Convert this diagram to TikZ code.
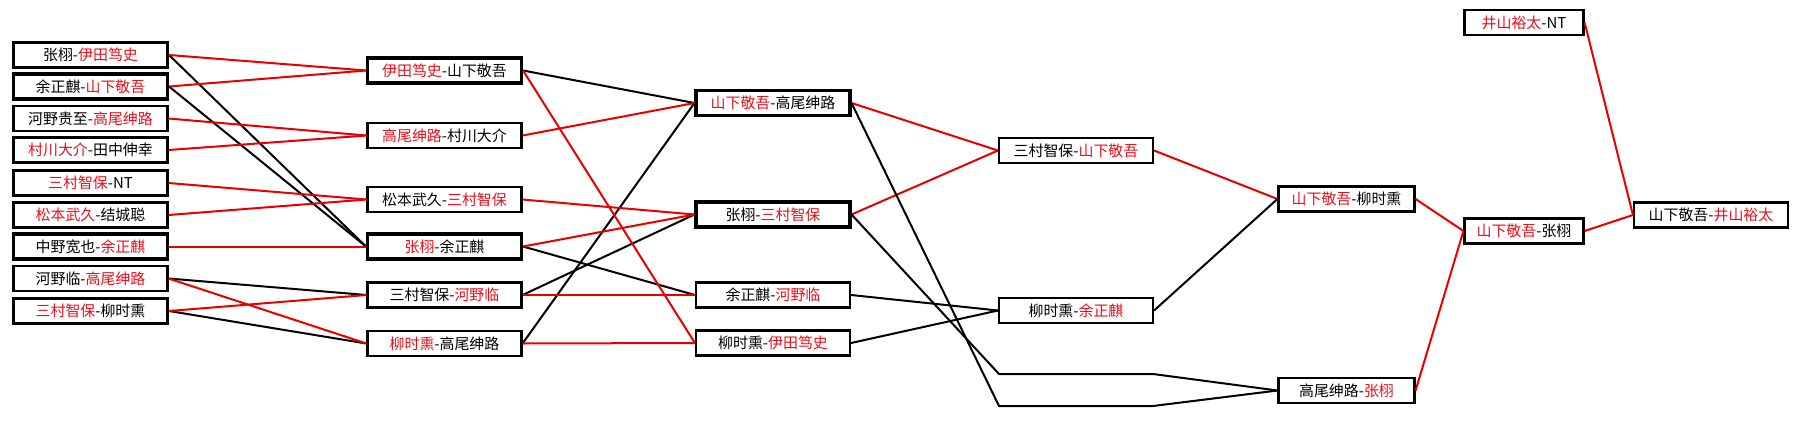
\documentclass[tikz,border=0pt]{standalone}
\usepackage{fontspec}
\setmainfont{Noto Sans CJK SC}
\usepackage{xcolor}
\definecolor{wred}{RGB}{232,16,28}
\definecolor{lred}{RGB}{232,0,0}
\newcommand{\redtxt}[1]{\textcolor{wred}{#1}}
\tikzset{
  box/.style={draw=black, line width=1.6pt, inner sep=0pt, minimum height=25*0.75pt, font=\fontsize{11.2pt}{13pt}\selectfont, text=black},
  boxb/.style={box, line width=2.3pt},
  w1/.style={minimum width=154*0.75pt},
  w5/.style={minimum width=136*0.75pt},
  w6/.style={minimum width=119*0.75pt},
  rl/.style={draw=lred, line width=1.5pt},
  bl/.style={draw=black, line width=1.5pt},
}
\begin{document}
\begin{tikzpicture}[x=0.75pt,y=-0.75pt]
\useasboundingbox (0,0) rectangle (1798,429);
\fill[white] (0,0) rectangle (1798,429);
% column 1
\node[boxb,w1] (a1) at (90.5,55) {张栩-\redtxt{伊田笃史}};
\node[boxb,w1] (a2) at (90.5,86.5) {余正麒-\redtxt{山下敬吾}};
\node[box,w1] (a3) at (90.5,118.5) {河野贵至-\redtxt{高尾绅路}};
\node[box,w1] (a4) at (90.5,150) {\redtxt{村川大介}-田中伸幸};
\node[box,w1] (a5) at (90.5,183) {\redtxt{三村智保}-NT};
\node[box,w1] (a6) at (90.5,215) {\redtxt{松本武久}-结城聪};
\node[boxb,w1] (a7) at (90.5,246.5) {中野宽也-\redtxt{余正麒}};
\node[box,w1] (a8) at (90.5,278.5) {河野临-\redtxt{高尾绅路}};
\node[boxb,w1] (a9) at (90.5,311) {\redtxt{三村智保}-柳时熏};
% column 2
\node[boxb,w1] (b1) at (444.5,70.5) {\redtxt{伊田笃史}-山下敬吾};
\node[box,w1] (b2) at (444.5,135.5) {\redtxt{高尾绅路}-村川大介};
\node[box,w1] (b3) at (444.5,199.5) {松本武久-\redtxt{三村智保}};
\node[boxb,w1] (b4) at (444.5,246.5) {\redtxt{张栩}-余正麒};
\node[box,w1] (b5) at (444.5,295) {三村智保-\redtxt{河野临}};
\node[box,w1] (b6) at (444.5,343.5) {\redtxt{柳时熏}-高尾绅路};
% column 3
\node[boxb,w1] (c1) at (773,103) {\redtxt{山下敬吾}-高尾绅路};
\node[boxb,w1] (c2) at (773,214.5) {张栩-\redtxt{三村智保}};
\node[box,w1] (c3) at (773,295) {余正麒-\redtxt{河野临}};
\node[box,w1] (c4) at (773,343) {柳时熏-\redtxt{伊田笃史}};
% column 4
\node[box,w1] (d1) at (1076,150.5) {三村智保-\redtxt{山下敬吾}};
\node[box,w1] (d2) at (1076,310.5) {柳时熏-\redtxt{余正麒}};
\coordinate (h1) at (999,374);
\coordinate (h1b) at (1153,374);
\coordinate (h2) at (999,406);
\coordinate (h2b) at (1153,406);
% column 5
\node[box,w5] (e1) at (1346.5,199) {\redtxt{山下敬吾}-柳时熏};
\node[box,w5] (e2) at (1346.5,390.5) {高尾绅路-\redtxt{张栩}};
% column 6
\node[box,w6] (f0) at (1524,22.5) {\redtxt{井山裕太}-NT};
\node[box,w6] (f1) at (1524,231) {\redtxt{山下敬吾}-张栩};
% column 7
\node[box,w1] (g1) at (1711,215) {山下敬吾-\redtxt{井山裕太}};
% connectors col1 -> col2
\draw[bl] (a1.east) -- (b4.west);
\draw[bl] (a2.east) -- (b4.west);
\draw[bl] (a8.east) -- (b5.west);
\draw[bl] (a9.east) -- (b6.west);
\draw[rl] (a1.east) -- (b1.west);
\draw[rl] (a2.east) -- (b1.west);
\draw[rl] (a3.east) -- (b2.west);
\draw[rl] (a4.east) -- (b2.west);
\draw[rl] (a5.east) -- (b3.west);
\draw[rl] (a6.east) -- (b3.west);
\draw[rl] (a7.east) -- (b4.west);
\draw[rl] (a8.east) -- (b6.west);
\draw[rl] (a9.east) -- (b5.west);
% col2 -> col3
\draw[bl] (b1.east) -- (c1.west);
\draw[bl] (b4.east) -- (c3.west);
\draw[bl] (b5.east) -- (c2.west);
\draw[bl] (b6.east) -- (c1.west);
\draw[rl] (b1.east) -- (c4.west);
\draw[rl] (b2.east) -- (c1.west);
\draw[rl] (b3.east) -- (c2.west);
\draw[rl] (b4.east) -- (c2.west);
\draw[rl] (b5.east) -- (c3.west);
\draw[rl] (b6.east) -- (c4.west);
% col3 -> col4
\draw[rl] (c1.east) -- (d1.west);
\draw[rl] (c2.east) -- (d1.west);
\draw[bl] (c3.east) -- (d2.west);
\draw[bl] (c4.east) -- (d2.west);
\draw[bl] (c1.east) -- (h2) -- (h2b) -- (e2.west);
\draw[bl] (c2.east) -- (h1) -- (h1b) -- (e2.west);
% col4 -> col5
\draw[rl] (d1.east) -- (e1.west);
\draw[bl] (d2.east) -- (e1.west);
% col5 -> col6
\draw[rl] (e1.east) -- (f1.west);
\draw[rl] (e2.east) -- (f1.west);
% col6 -> col7
\draw[rl] (f1.east) -- (g1.west);
\draw[rl] (f0.east) -- (g1.west);
\end{tikzpicture}
\end{document}
